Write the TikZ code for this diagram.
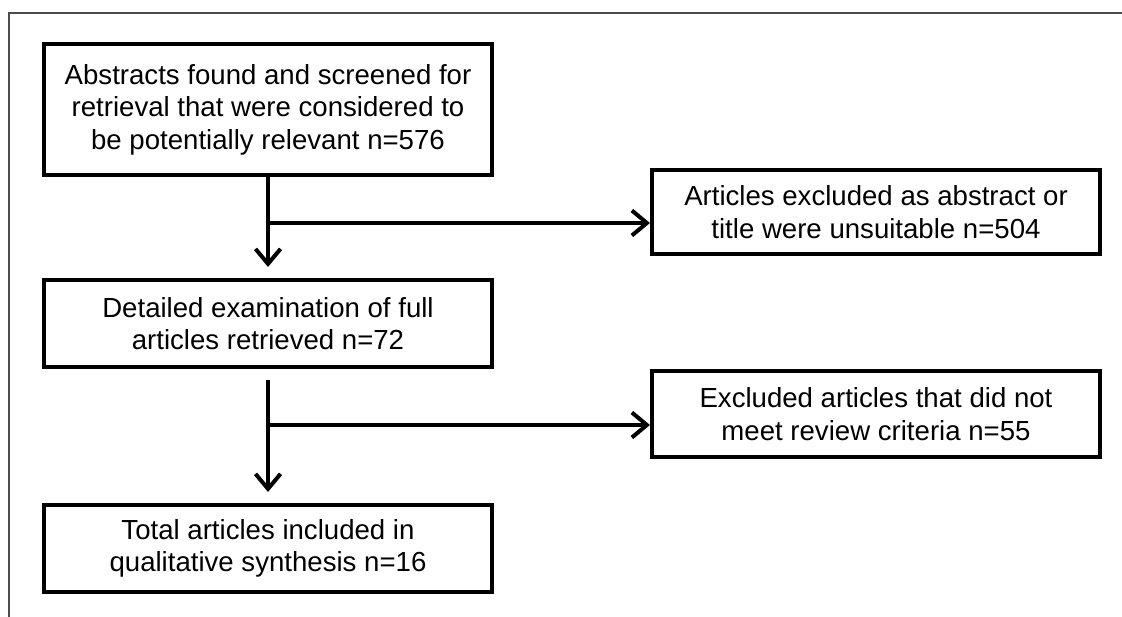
\documentclass[tikz,border=0pt]{standalone}
\usepackage{fontspec}
\setmainfont{Liberation Sans}
\usetikzlibrary{arrows.meta}
\begin{document}
\begin{tikzpicture}[x=1pt,y=-1pt,
  box/.style={draw,line width=4pt,minimum width=448pt,align=center,inner sep=0pt,
    font=\fontsize{27.6}{32.5}\selectfont},
  arr/.style={line width=4pt,-{Straight Barb[length=15pt,width=25pt]}},
  conn/.style={line width=4pt}]
\useasboundingbox (0,0) rectangle (1122,617);
\draw[black!70,line width=1.5pt] (1122,13) -- (9,13) -- (9,617);
\node[box,minimum height=131pt] (b1) at (268,109.5) {Abstracts found and screened for\\retrieval that were considered to\\be potentially relevant n=576};
\node[box,minimum height=84pt] (b2) at (876,212) {Articles excluded as abstract or\\title were unsuitable n=504};
\node[box,minimum height=87pt] (b3) at (268,323.5) {Detailed examination of full\\articles retrieved n=72};
\node[box,minimum height=86pt] (b4) at (876,414) {Excluded articles that did not\\meet review criteria n=55};
\node[box,minimum height=87pt] (b5) at (268,548.5) {Total articles included in\\qualitative synthesis n=16};
\coordinate (j1) at (268,223);
\coordinate (j2) at (268,425);
\draw[arr] (b1.south) -- ([yshift=11pt]b3.north);
\draw[arr] (j1) -- (j1 -| b2.west);
\draw[arr] ([yshift=-11pt]b3.south) -- ([yshift=11pt]b5.north);
\draw[arr] (j2) -- (j2 -| b4.west);
\end{tikzpicture}
\end{document}
